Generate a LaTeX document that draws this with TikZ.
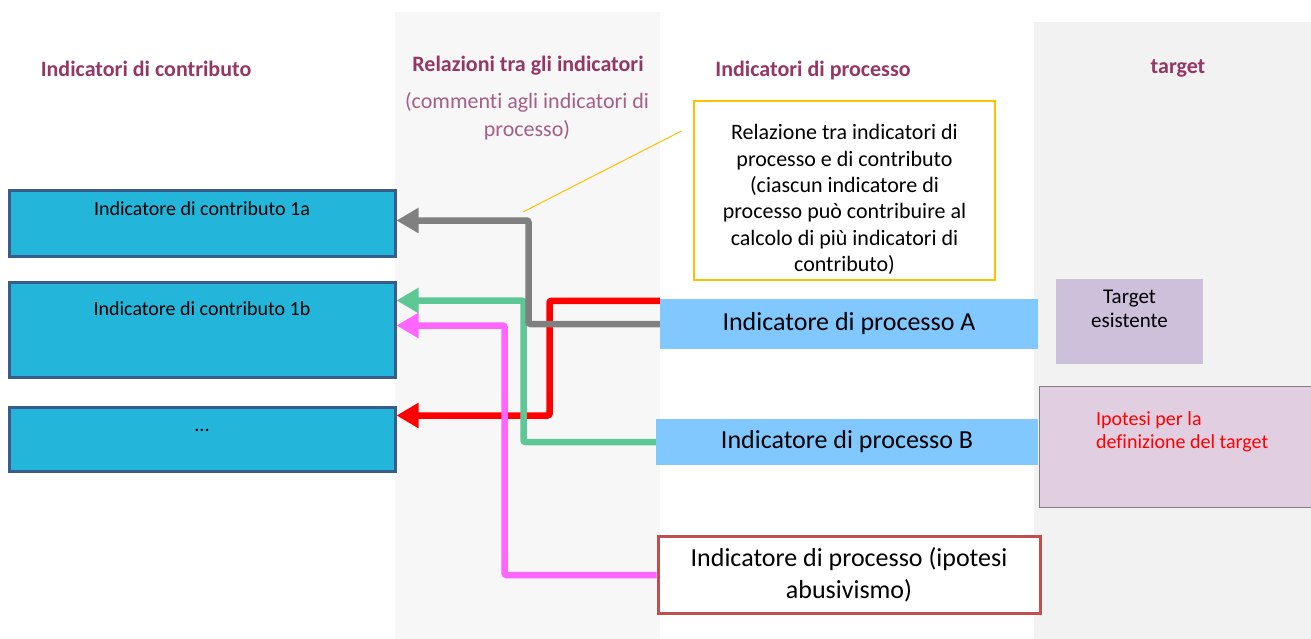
\documentclass[tikz,border=0pt]{standalone}
\usepackage{fontspec}
\setmainfont{Carlito}[Ligatures=NoCommon]
\usepackage{tikz}
\usetikzlibrary{calc}
\usetikzlibrary{arrows.meta}
\usetikzlibrary{positioning}
\definecolor{prugna}{RGB}{149, 55, 100}
\definecolor{malva}{RGB}{165, 95, 135}
\definecolor{fasciamedia}{RGB}{247, 247, 247}
\definecolor{fasciadestra}{RGB}{242, 242, 242}
\definecolor{ciano}{RGB}{35, 182, 218}
\definecolor{bluscuro}{RGB}{56, 93, 138}
\definecolor{celeste}{RGB}{128, 200, 255}
\definecolor{mattone}{RGB}{192, 80, 77}
\definecolor{ambra}{RGB}{255, 192, 0}
\definecolor{lilla}{RGB}{204, 192, 218}
\definecolor{rosato}{RGB}{225, 206, 225}
\definecolor{grigiofreccia}{RGB}{128, 128, 128}
\definecolor{verdeacqua}{RGB}{94, 199, 150}
\definecolor{rossovivo}{RGB}{255, 0, 0}
\definecolor{fucsia}{RGB}{255, 102, 255}

\begin{document}
\begin{tikzpicture}[x=1pt, y=-1pt,
    titolo/.style={font=\fontsize{22}{26}\selectfont\bfseries, text=prugna, anchor=base},
    contrib/.style={draw=bluscuro, line width=3pt, fill=ciano, minimum width=386pt, inner sep=0pt},
    testocontrib/.style={font=\fontsize{20}{24}\selectfont, text=black},
    processo/.style={fill=celeste, inner sep=0pt, font=\fontsize{26}{32}\selectfont},
    freccia/.style={line width=6.5pt, rounded corners=2pt, -{Triangle[length=22pt, width=24pt]}}]
    \useasboundingbox (0,0) rectangle (1311,639);
    % fasce di sfondo
    \fill[fasciamedia]  (395, 12) rectangle (660,639);
    \fill[fasciadestra] (1034,22) rectangle (1311,639);

    % titoli delle colonne
    \node[titolo] (tcontrib) at (146,77) {Indicatori di contributo};
    \node[titolo] (trelaz)   at (528,72) {Relazioni tra gli indicatori};
    \node[font=\fontsize{22}{28}\selectfont, text=malva, align=center] (tcommenti) at (527,116)
        {(commenti agli indicatori di\\processo)};
    \node[titolo] (tprocesso) at (813,77) {Indicatori di processo};
    \node[titolo] (ttarget)   at (1178,74) {target};

    % indicatori di contributo
    \node[contrib, minimum height=65pt, label={[testocontrib, yshift=14.5pt]center:Indicatore di contributo 1a}] (c1a) at (202,223.5) {};
    \node[contrib, minimum height=95pt, label={[testocontrib, yshift=20.5pt]center:Indicatore di contributo 1b}] (c1b) at (202,329.5) {};
    \node[contrib, minimum height=64pt, label={[testocontrib, yshift=9pt]center:...}] (c1c) at (202,439) {};

    % indicatori di processo
    \node[processo, minimum width=378pt, minimum height=50pt] (pA) at (849,324) {Indicatore di processo A};
    \node[processo, minimum width=382pt, minimum height=46pt] (pB) at (847,442) {Indicatore di processo B};
    \node[draw=mattone, line width=3pt, fill=white, minimum width=382pt, minimum height=77pt, inner sep=0pt,
          align=center, font=\fontsize{26}{32}\selectfont] (pC) at (849,575) {Indicatore di processo (ipotesi\\abusivismo)};

    % nota
    \node[draw=ambra, line width=1.2pt, fill=white, minimum width=301pt, minimum height=179pt,
          label={[align=center, font=\fontsize{22}{26.4}\selectfont, yshift=-9pt]center:{Relazione tra indicatori di\\processo e di contributo\\(ciascun indicatore di\\processo può contribuire al\\calcolo di più indicatori di\\contributo)}}] (nota) at (844.5,190.5) {};
    \coordinate (richiamo) at (523,212);
    \draw[ambra, line width=1pt] (richiamo) -- ($(nota.west)+(-12,-59.5)$);

    % target
    \node[fill=lilla, minimum width=147pt, minimum height=85pt, inner sep=0pt,
          label={[align=center, font=\fontsize{21}{24}\selectfont, yshift=12pt]center:{Target\\esistente}}] (tE) at (1129.5,321) {};
    \node[draw=grigiofreccia, line width=1pt, fill=rosato, minimum width=274pt, minimum height=121pt, inner sep=0pt,
          label={[anchor=west, align=left, text=rossovivo, font=\fontsize{20}{23}\selectfont, xshift=54pt, yshift=15.5pt]west:{Ipotesi per la\\definizione del target}}] (tI) at (1176,447) {};

    % relazioni
    \draw[freccia, rossovivo] ($(pA.north west)+(0,2)$) -| ($(c1c.north east)+(153,10)$) -- ($(c1c.north east)+(0,10)$);
    \draw[freccia, verdeacqua] (pB.west) -| ($(c1b.north east)+(127,20)$) -- ($(c1b.north east)+(0,20)$);
    \draw[freccia, fucsia] (pC.west) -| ($(c1b.north east)+(108,45)$) -- ($(c1b.north east)+(0,45)$);
    \draw[freccia, grigiofreccia] (pA.west) -| ($(c1a.north east)+(132,31)$) -- ($(c1a.north east)+(0,31)$);
\end{tikzpicture}
\end{document}
